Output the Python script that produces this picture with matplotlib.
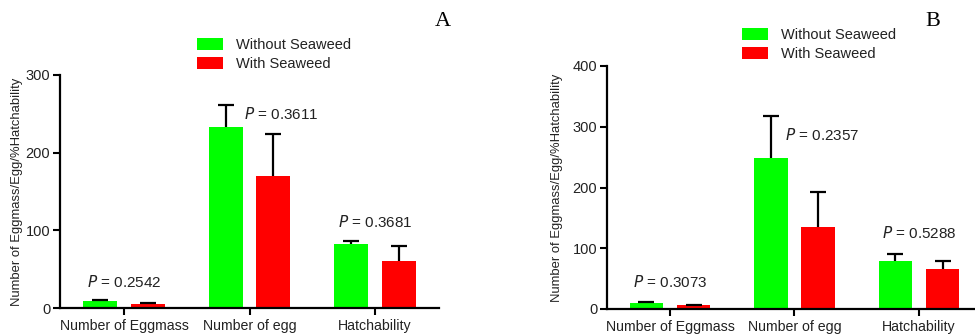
import matplotlib
matplotlib.use("Agg")
import matplotlib.pyplot as plt
from matplotlib.patches import Patch

categories = ["Number of Eggmass", "Number of egg", "Hatchability"]
series_names = ["Without Seaweed", "With Seaweed"]

a_without = [8.5, 232.5, 82.5]
a_without_err = [1.5, 29.0, 3.5]
a_with = [5.5, 170.0, 61.0]
a_with_err = [1.5, 54.0, 19.0]
a_pvalues = ["0.2542", "0.3611", "0.3681"]

b_without = [9.5, 248.5, 78.5]
b_without_err = [2.0, 69.0, 12.0]
b_with = [6.0, 135.5, 66.5]
b_with_err = [1.0, 57.0, 12.0]
b_pvalues = ["0.3073", "0.2357", "0.5288"]

GREEN = "#00ff00"
RED = "#ff0000"
TXT = "#222222"
plt.rcParams["font.family"] = ["Liberation Sans", "DejaVu Sans"]

fig = plt.figure(figsize=(9.75, 3.36), dpi=100)


def panel(rect, ymax, yticks, vals1, err1, vals2, err2, pv, pv_pos, xlim, letter, letter_xy, leg_xy, lpad):
    ax = fig.add_axes(rect)
    x = list(range(len(categories)))
    off = 0.19
    w = 0.27
    ekw = dict(elinewidth=1.6, capthick=1.6, ecolor="black")
    for sign, vals, errs, col in [(-1, vals1, err1, GREEN), (1, vals2, err2, RED)]:
        xs = [i + sign * off for i in x]
        ax.bar(xs, vals, w, color=col, zorder=2)
        _, caps, _ = ax.errorbar(xs, vals, yerr=[[0] * 3, errs], fmt="none", capsize=6, zorder=3, **ekw)
        caps[0].set_visible(False)
    ax.set_ylim(0, ymax)
    ax.set_xlim(*xlim)
    ax.set_yticks(yticks)
    ax.set_xticks(x)
    ax.set_xticklabels(categories, fontsize=10.2, color=TXT)
    ax.tick_params(axis="y", labelsize=10.5, labelcolor=TXT, width=1.5, length=5, pad=2)
    ax.tick_params(axis="x", width=1.5, length=5, pad=3)
    for s in ["top", "right"]:
        ax.spines[s].set_visible(False)
    for s in ["left", "bottom"]:
        ax.spines[s].set_linewidth(1.6)
    ax.set_ylabel("Number of Eggmass/Egg/%Hatchability", fontsize=9.4, color=TXT, labelpad=lpad)
    for i, p in enumerate(pv):
        ax.text(i + pv_pos[i][0], pv_pos[i][1], r"$\it{P}$" + " = " + p, ha="center", va="center",
                fontsize=11, color=TXT)
    fig.text(letter_xy[0], letter_xy[1], letter, fontsize=16, family="Liberation Serif", ha="center", va="center")
    handles = [Patch(facecolor=GREEN), Patch(facecolor=RED)]
    fig.legend(handles, series_names, loc="upper left", bbox_to_anchor=leg_xy, frameon=False,
               fontsize=10.5, handlelength=1.75, handleheight=0.8, labelspacing=0.35, handletextpad=0.9,
               borderaxespad=0, borderpad=0, labelcolor=TXT)
    return ax


panel([60 / 975, 1 - 308 / 336, 379 / 975, 233 / 336], 300, [0, 100, 200, 300],
      a_without, a_without_err, a_with, a_with_err, a_pvalues,
      [(0.0, 34), (0.25, 250), (0.0, 111)], (-0.51, 2.51), "A", (443 / 975, 1 - 22 / 336),
      (197 / 975, 1 - 38 / 336), 2)
panel([607 / 975, 1 - 309 / 336, 368 / 975, 243 / 336], 400, [0, 100, 200, 300, 400],
      b_without, b_without_err, b_with, b_with_err, b_pvalues,
      [(0.0, 45), (0.22, 286), (0.0, 125)], (-0.506, 2.45), "B", (933 / 975, 1 - 22 / 336),
      (742 / 975, 1 - 28 / 336), 7)

fig.savefig("out.png", dpi=100)
